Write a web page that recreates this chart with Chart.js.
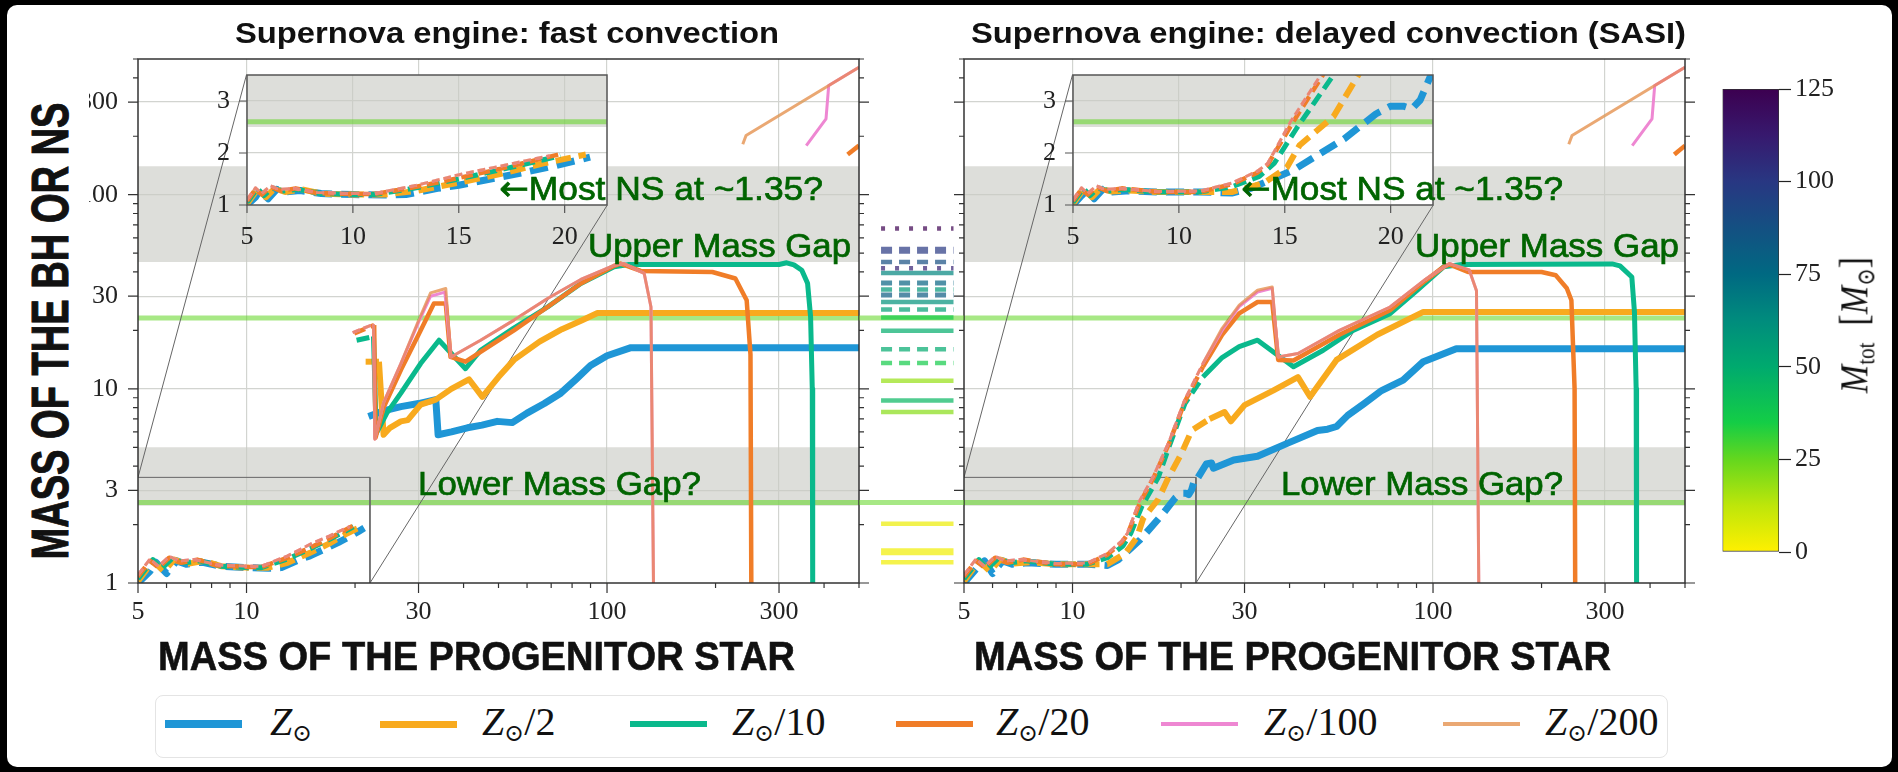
<!DOCTYPE html>
<html>
<head>
<meta charset="utf-8">
<script src="https://cdn.jsdelivr.net/npm/chart.js@4.4.1/dist/chart.umd.min.js"></script>
<style>
  body { margin: 0; width: 1898px; height: 772px; background: #000; overflow: hidden; position: relative; }
  #page { position: absolute; left: 7px; top: 5px; width: 1885px; height: 762px; background: #fff; border-radius: 10px; }
  canvas { position: absolute; }
  .txt { position: absolute; white-space: nowrap; transform-origin: 0 50%; }
  .txt .arrow { font-family: "DejaVu Sans", sans-serif; font-weight: normal; }
  #ybox { position: absolute; left: 7px; top: 62px; width: 82px; height: 520px; background: #fff; }
  #legend { position: absolute; left: 155px; top: 695px; width: 1511px; height: 61px; border: 1px solid #e4e4e4; border-radius: 8px; background: #fff; }
  .sw { position: absolute; }
  .lab { position: absolute; font: 40px/1 "Liberation Serif", "DejaVu Serif", serif; color: #111; white-space: nowrap; }
  .lab sub { font-size: 0.6em; vertical-align: -0.25em; font-style: normal; }
</style>
</head>
<body>
<div id="page"></div>
<canvas id="fast"></canvas>
<canvas id="sasi"></canvas>
<canvas id="strip"></canvas>
<canvas id="fastInset"></canvas>
<canvas id="sasiInset"></canvas>
<canvas id="cbar"></canvas>
<div id="ybox"></div>
<div id="legend"></div>
<script>
// ---- axes / reference values ----
const xMajor = [5, 10, 30, 100, 300];
const yMajor = [1, 3, 10, 30, 100, 300];
const insetXTicks = [5, 10, 15, 20];
const insetYTicks = [1, 2, 3];
const insetRangeX = [5, 22];
const insetRangeY = [1, 3.5];
const insetBoxX = [10, 100];     // where the inset sits, in main-panel data units
const insetBoxY = [88, 415];
const gapLower = [2.5, 5];
const gapUpper = [45, 140];
const gw190814 = [23.2, 2.6];
const gw190814Total = 25.8;

// ---- series: [progenitor mass, remnant mass] ----
const seriesSuffix = ['', '/2', '/10', '/20', '/100', '/200'];
const seriesColors = ['#1f96d6', '#f8aa1e', '#0ab98c', '#f07d28', '#ee87d2', '#eaa873'];
const seriesWidths = [7, 6, 5, 4.5, 3, 3];

// fast convection
const fastSolar = [[5,1.0],[5.4,1.15],[5.6,1.28],[6.0,1.12],[6.4,1.3],[6.8,1.25],[7.5,1.28],[8.5,1.22],[10,1.2],[11.5,1.19],[12.5,1.2],[14,1.32],[15,1.38],[16.5,1.5],[18,1.62],[19.5,1.75],[20.5,1.85],[21.2,1.92],[21.5,null],
  [21.8,7.2],[24,7.7],[26.8,8.1],[30,8.4],[33.5,8.8],[34,5.8],[37,6.0],[41,6.3],[45,6.5],[49.6,6.8],[54.6,6.7],[60,7.5],[67,8.4],[74.4,9.5],[82,11.2],[90,13.2],[100,14.8],[116.5,16.3],[500,16.3]];
const fastHalf = [[5,1.02],[5.5,1.3],[5.9,1.15],[6.3,1.32],[6.8,1.25],[7.6,1.3],[8.5,1.22],[10,1.2],[11.5,1.2],[13,1.27],[15,1.43],[17,1.6],[19,1.8],[21,1.97],[21.2,null],
  [21.4,13.8],[23.3,13.8],[24,5.8],[25,6.3],[26.8,6.8],[28,6.9],[30.4,8.3],[33.5,8.8],[37,10],[41.4,11.2],[45.1,9.1],[50,11.5],[55.2,14.1],[65,17.5],[75,20.3],[85,22.5],[94.1,24.6],[500,24.6]];
const fastTenth = [[5,1.05],[5.5,1.32],[5.8,1.18],[6.2,1.33],[6.7,1.27],[7.4,1.3],[8.5,1.22],[10,1.2],[11,1.2],[13,1.33],[15,1.5],[17,1.68],[19,1.87],[19.8,1.95],[20,null],
  [20.2,17.8],[22.5,18.6],[22.9,5.9],[24.5,7.5],[26.8,9.5],[30.4,13.5],[34.2,17.8],[40.5,12.7],[44.6,15.8],[55,20.5],[68.4,26.4],[84.6,34.9],[104.6,42.5],[115,43.7],[300,43.7],[315,44.6],[330,43.5],[347,40.8],[360,35],[367,23.5],[371,10],[372,0.9]];
const fastTwentieth = [[5,1.08],[5.4,1.3],[5.7,1.2],[6.1,1.35],[6.6,1.27],[7.3,1.32],[8.3,1.23],[10,1.21],[11,1.21],[13,1.35],[15,1.52],[17,1.7],[19,1.9],[19.7,1.97],[19.8,null],
  [19.9,19.3],[22.6,21.3],[22.8,5.6],[24,8],[26.8,12.5],[30,19],[33.1,27.5],[35.7,27.5],[36.8,14.6],[40.5,13.8],[55.2,20],[68.4,26.4],[84.6,34.9],[104.6,43],[109,44.2],[124,40.5],[196,40],[227,37],[244,28.6],[250,15],[251.4,0.9],[300,null],
  [465,161],[500,179]];
const fastHundredth = [[5,1.1],[5.4,1.33],[5.7,1.22],[6.1,1.37],[6.5,1.3],[7.2,1.32],[8.3,1.24],[10,1.22],[11,1.22],[13,1.38],[15.2,1.6],[17,1.75],[19.3,1.95],[19.5,null],
  [19.7,19.5],[22.5,21.5],[22.7,5.5],[24,8.5],[26.8,13.5],[30,22],[32.4,30],[35.5,31.5],[36.9,14.6],[44.6,17.8],[55.2,22.6],[68.4,29.2],[84.6,36.6],[104.6,43.3],[111.6,44.2],[126.8,39.3],[132.4,26.4],[134.6,0.9],[200,null],
  [357,179],[405,246],[412,365],[500,453]];
const fastTwoHundredth = [[5,1.1],[5.4,1.33],[5.7,1.22],[6.1,1.37],[6.5,1.3],[7.2,1.32],[8.3,1.24],[10,1.22],[11,1.22],[13,1.38],[15.2,1.6],[17,1.75],[19.3,1.95],[19.5,null],
  [19.7,19.5],[22.5,21.5],[22.7,5.5],[24,8.5],[26.8,13.5],[30,22.5],[32.4,31.2],[35.7,32.9],[36.9,14.6],[44.6,17.8],[55.2,22.6],[68.4,29.2],[84.6,36.6],[104.6,43.3],[111.6,44.2],[126.8,39.3],[132.4,26.4],[134.6,0.9],[200,null],
  [238,182],[243,202],[500,453]];

// delayed convection (SASI)
const sasiSolar = [[5,1.0],[5.4,1.18],[5.7,1.3],[6.0,1.12],[6.4,1.3],[6.8,1.25],[7.5,1.27],[9,1.25],[11,1.25],[12.5,1.23],[13.4,1.32],[15.4,1.67],[17.8,2.27],[19.3,2.75],[20.0,2.9],[20.6,2.9],[21.0,2.85],[21.4,3.02],[21.85,3.45],[22.3,3.5],
  [23.5,4.1],[24.3,4.15],[24.6,3.9],[28,4.3],[32.6,4.5],[40,5.3],[47.8,6.1],[51,6.2],[54,6.4],[58,7.3],[64.4,8.4],[72,9.8],[82.6,11.1],[94,13.8],[116,16.1],[500,16.1]];
const sasiHalf = [[5,1.02],[5.5,1.3],[5.9,1.15],[6.3,1.32],[6.8,1.26],[7.6,1.28],[9,1.25],[11,1.25],[12.5,1.25],[14,1.42],[15.1,1.72],[15.7,2.15],[17.3,2.7],[18.4,3.45],[20,4.6],[21.4,6.1],
  [24,7.0],[26.4,7.6],[27.5,6.8],[30,8.25],[36,9.8],[42.2,11.5],[45.6,9.1],[54,14.1],[70,19],[94,24.9],[500,24.9]];
const sasiTenth = [[5,1.05],[5.5,1.32],[5.8,1.18],[6.2,1.33],[6.7,1.27],[7.4,1.3],[9,1.25],[11,1.25],[12.5,1.35],[13.8,1.55],[14.5,1.8],[15.6,2.5],[17.3,3.5],[18.5,5],[20.5,8.4],
  [23,11.5],[26,14.5],[29,16.5],[32.6,17.8],[41,13],[49.6,15.8],[60,20],[76,24.4],[90,32],[107,42.5],[120,43.7],[314,44],[330,43],[356,37.7],[362,25],[366,10],[367,0.9]];
const sasiTwentieth = [[5,1.08],[5.4,1.3],[5.7,1.2],[6.1,1.35],[6.6,1.27],[7.3,1.32],[9,1.25],[11,1.25],[12.5,1.4],[13.7,1.62],[14.2,1.78],[15.4,2.6],[16.8,3.5],[18.5,5.2],[20.5,8.6],
  [23,13],[26,19],[29,24.5],[32.6,28],[35.8,28],[37.2,14.1],[41,14],[55,19],[76,25.4],[95,36],[107,42.5],[111,43.7],[125,40],[200,40],[219,38.5],[235,33],[242,28.6],[247,10],[248,0.9],[300,null],
  [467,161],[500,179]];
const sasiHundredth = [[5,1.1],[5.4,1.33],[5.7,1.22],[6.1,1.37],[6.5,1.3],[7.2,1.32],[9,1.26],[11,1.27],[12.5,1.42],[13.7,1.65],[14.2,1.8],[15.3,2.62],[16.7,3.5],[18.5,5.3],[20.5,8.8],
  [23,13.5],[26,20],[29,26.5],[32.6,31.5],[35.8,33],[37.2,14.6],[42.2,15.2],[55,20],[76,26.4],[95,36.5],[111,44.2],[126,41],[132,32],[134,0.9],[200,null],
  [357,179],[405,246],[412,365],[500,453]];
const sasiTwoHundredth = [[5,1.1],[5.4,1.33],[5.7,1.22],[6.1,1.37],[6.5,1.3],[7.2,1.32],[9,1.26],[11,1.27],[12.5,1.42],[13.7,1.65],[14.2,1.8],[15.3,2.62],[16.7,3.5],[18.5,5.3],[20.5,8.8],
  [23,13.5],[26,20.5],[29,27],[32.6,32.2],[35.8,33.5],[37.2,14.6],[42.2,15.2],[55,20],[76,26.4],[95,36.5],[111,44.2],[126,41],[132,32],[134,0.9],[200,null],
  [238,182],[243,202],[500,453]];

// observed compact objects (middle strip)
const eventMass  = [66.9, 51.7, 45.0, 41.8, 39.5, 35.1, 32.5, 30.4, 28.0, 25.6, 23.3, 19.9, 16.0, 13.6, 11.0, 8.7, 7.6, 2.02, 1.45, 1.28];
const eventTotal = [150, 100, 88, 110, 65, 78, 58, 82, 60, 55, 36, 49, 50, 36, 18, 45, 20, 3.4, 2.7, 2.7];
const eventStyle = ['dotted','dashed','dashed','dotted','solid','dashed','dashed','dashed','solid','dashed','solid','solid','dashed','dashed','solid','solid','solid','solid','solid','solid'];
const eventWidth = [4.5, 7, 4.5, 4.5, 4.5, 5, 4.5, 5, 4.5, 4.5, 4.5, 4.5, 4.5, 4.5, 4.5, 4.5, 4.5, 4.5, 7, 4.5];

// colour bar
const cbarMax = 125;
const cbarTicks = [0, 25, 50, 75, 100, 125];
const cbStops = [
  [0.00, [255, 240, 0]], [0.10, [190, 230, 10]], [0.20, [100, 215, 30]], [0.28, [20, 205, 70]],
  [0.40, [0, 170, 110]], [0.50, [0, 140, 125]], [0.60, [0, 105, 130]], [0.70, [20, 80, 130]],
  [0.80, [40, 55, 130]], [0.90, [55, 25, 110]], [1.00, [60, 0, 80]]
];

// ---- helpers ----
function cmap(v, alpha) {
  const t = Math.max(0, Math.min(1, v / cbarMax));
  for (let i = 1; i < cbStops.length; i++) {
    if (t <= cbStops[i][0]) {
      const [t0, c0] = cbStops[i - 1], [t1, c1] = cbStops[i];
      const f = (t - t0) / (t1 - t0);
      const c = c0.map((a, k) => Math.round(a + (c1[k] - a) * f));
      return `rgba(${c[0]},${c[1]},${c[2]},${alpha})`;
    }
  }
}
const toPoints = arr => arr.map(([x, y]) => ({x, y}));
const tickFont = {family: '"Liberation Serif", "DejaVu Serif", serif', size: 26};
const gridColor = '#d2d4d0';
const bandColor = 'rgba(200,202,196,0.62)';
const gwColor = cmap(gw190814Total, 0.55);
// keep Chart.js from reserving room for edge labels: the plot box is set by hand
const noPad = s => { s.paddingTop = 0; s.paddingBottom = 0; s.paddingLeft = 0; s.paddingRight = 0; };

function logValues(min, max) {
  const out = [];
  for (let e = 0; e < 4; e++) for (let k = 1; k < 10; k++) {
    const v = k * Math.pow(10, e);
    if (v >= min - 1e-9 && v <= max + 1e-9) out.push(v);
  }
  return out;
}

// ticks on the outside of the frame + frame itself
const frameTicks = {
  id: 'frameTicks',
  beforeDraw(chart, args, o) {
    if (!o.whiteBg) return;
    const a = chart.chartArea, ctx = chart.ctx;
    ctx.save(); ctx.fillStyle = '#fff'; ctx.fillRect(a.left, a.top, a.width, a.height); ctx.restore();
  },
  afterDatasetsDraw(chart, args, o) {
    if (!o.on) return;
    const {ctx, chartArea: a, scales: {x, y}} = chart;
    ctx.save();
    ctx.strokeStyle = o.color; ctx.lineWidth = 1.2;
    ctx.beginPath();
    const yVals = o.log ? logValues(y.min, y.max) : o.yMajor;
    yVals.forEach(v => {
      const p = y.getPixelForValue(v);
      const len = o.yMajor.includes(v) ? o.len : o.len / 2;
      ctx.moveTo(a.left - len, p); ctx.lineTo(a.left, p);
      if (o.right) { ctx.moveTo(a.right, p); ctx.lineTo(a.right + len, p); }
    });
    const xVals = o.log ? logValues(x.min, x.max) : o.xMajor;
    xVals.forEach(v => {
      const p = x.getPixelForValue(v);
      const len = o.xMajor.includes(v) ? o.len : o.len / 2;
      ctx.moveTo(p, a.bottom); ctx.lineTo(p, a.bottom + len);
    });
    ctx.stroke();
    ctx.lineWidth = o.frameWidth;
    ctx.strokeRect(a.left, a.top, a.width, a.height);
    ctx.restore();
  }
};
// lets the thin Z/200 line darken what lies below it (pink + tan -> salmon)
const darken = {
  id: 'darken',
  beforeDatasetDraw(chart, args) {
    if (chart.data.datasets[args.index].darken) { chart.ctx.save(); chart.ctx.globalCompositeOperation = 'darken'; }
  },
  afterDatasetDraw(chart, args) {
    if (chart.data.datasets[args.index].darken) chart.ctx.restore();
  }
};
Chart.register(frameTicks, darken);

function band(range) {
  return {data: toPoints([[1, range[1]], [1000, range[1]]]), fill: {value: range[0]}, backgroundColor: bandColor,
          borderWidth: 0, pointRadius: 0, order: 100};
}
function hline(v, x0, x1, color, width, dash) {
  return {data: toPoints([[x0, v], [x1, v]]), borderColor: color, borderWidth: width, borderDash: dash || [],
          pointRadius: 0, order: 90, clip: 0};
}
function seriesSet(arr, i, scale) {
  const w = seriesWidths[i] * scale;
  return {
    data: toPoints(arr), borderColor: seriesColors[i], borderWidth: w, pointRadius: 0, tension: 0, clip: 0,
    borderJoinStyle: 'round', order: 10 - i, darken: i === 5,
    segment: {borderDash: c => c.p0.parsed.x < 22 ? [w * 2.6, w * 1.3] : undefined}
  };
}
const baseOptions = () => ({
  responsive: false, animation: false, events: [], devicePixelRatio: 1,
  plugins: {legend: {display: false}, tooltip: {enabled: false}}
});

// ---- main panels ----
const canvasTop = 40, plotTop = 59, plotBottom = 583;

function panel(id, canvasLeft, canvasWidth, plotLeft, plotRight, series, showYLabels) {
  const cv = document.getElementById(id);
  cv.width = canvasWidth; cv.height = 600;
  cv.style.left = canvasLeft + 'px'; cv.style.top = canvasTop + 'px';
  const boxPts = [[insetRangeX[0], insetRangeY[1]], [insetRangeX[1], insetRangeY[1]], [insetRangeX[1], 0.9]];
  const conn1 = [[insetBoxX[0], insetBoxY[1]], [insetRangeX[0], insetRangeY[1]]];
  const conn2 = [[insetBoxX[1], insetBoxY[0]], [insetRangeX[1], insetRangeY[0]]];
  const thin = arr => ({data: toPoints(arr), borderColor: '#666', borderWidth: 1, pointRadius: 0, order: 80, clip: 0});
  const datasets = [
    band(gapUpper), band(gapLower),
    hline(gw190814[0], 1, 1000, gwColor, 5), hline(gw190814[1], 1, 1000, gwColor, 5),
    thin(boxPts), thin(conn1), thin(conn2),
    ...series.map((s, i) => seriesSet(s, i, 1))
  ];
  const opts = baseOptions();
  opts.layout = {padding: {top: plotTop - canvasTop, right: canvasLeft + canvasWidth - plotRight, left: 0, bottom: 0}};
  opts.plugins.frameTicks = {on: true, log: true, xMajor, yMajor, len: 10, right: true, color: '#333', frameWidth: 1.5};
  opts.scales = {
    x: {
      type: 'logarithmic', min: 5, max: 500,
      afterBuildTicks: s => { s.ticks = xMajor.map(v => ({value: v})); },
      afterFit: s => { s.height = canvasTop + 600 - plotBottom; noPad(s); },
      ticks: {callback: v => String(v), font: tickFont, color: '#222', padding: 14, maxRotation: 0, autoSkip: false},
      grid: {drawTicks: false, color: c => (c.tick && c.tick.value === 5) ? 'rgba(0,0,0,0)' : gridColor, lineWidth: 1.2},
      border: {display: false}
    },
    y: {
      type: 'logarithmic', min: 1, max: 500,
      afterBuildTicks: s => { s.ticks = yMajor.map(v => ({value: v})); },
      afterFit: s => { s.width = plotLeft - canvasLeft; noPad(s); },
      ticks: {display: showYLabels, callback: v => String(v), font: tickFont, color: '#222', padding: 20, autoSkip: false},
      grid: {drawTicks: false, color: c => (c.tick && c.tick.value === 1) ? 'rgba(0,0,0,0)' : gridColor, lineWidth: 1.2},
      border: {display: false}
    }
  };
  return new Chart(cv, {type: 'line', data: {datasets}, options: opts});
}

function inset(main, id, canvasLeft, series) {
  const {x, y} = main.scales;
  const l = Math.round(canvasLeft + x.getPixelForValue(insetBoxX[0]));
  const r = Math.round(canvasLeft + x.getPixelForValue(insetBoxX[1]));
  const t = Math.round(canvasTop + y.getPixelForValue(insetBoxY[1]));
  const b = Math.round(canvasTop + y.getPixelForValue(insetBoxY[0]));
  const padL = 50, padT = 10, padR = 20, padB = 45;
  const cv = document.getElementById(id);
  cv.width = r - l + padL + padR; cv.height = b - t + padT + padB;
  cv.style.left = (l - padL) + 'px'; cv.style.top = (t - padT) + 'px';
  const datasets = [
    band([gapLower[0], 10]),
    hline(gw190814[1], 0, 30, gwColor, 5),
    ...series.map((s, i) => seriesSet(s, i, 1))
  ];
  const opts = baseOptions();
  opts.layout = {padding: {top: padT, right: padR, left: 0, bottom: 0}};
  opts.plugins.frameTicks = {on: true, log: false, xMajor: insetXTicks, yMajor: insetYTicks, len: 8, right: false,
                             color: '#555', frameWidth: 1.5, whiteBg: true};
  opts.scales = {
    x: {
      type: 'linear', min: insetRangeX[0], max: insetRangeX[1],
      afterBuildTicks: s => { s.ticks = insetXTicks.map(v => ({value: v})); },
      afterFit: s => { s.height = padB; noPad(s); },
      ticks: {font: tickFont, color: '#222', padding: 17, maxRotation: 0, autoSkip: false},
      grid: {drawTicks: false, color: c => (c.tick && c.tick.value === 5) ? 'rgba(0,0,0,0)' : gridColor, lineWidth: 1.2},
      border: {display: false}
    },
    y: {
      type: 'linear', min: insetRangeY[0], max: insetRangeY[1],
      afterBuildTicks: s => { s.ticks = insetYTicks.map(v => ({value: v})); },
      afterFit: s => { s.width = padL; noPad(s); },
      ticks: {font: tickFont, color: '#222', padding: 17, autoSkip: false},
      grid: {drawTicks: false, color: c => (c.tick && c.tick.value === 1) ? 'rgba(0,0,0,0)' : gridColor, lineWidth: 1.2},
      border: {display: false}
    }
  };
  return new Chart(cv, {type: 'line', data: {datasets}, options: opts});
}

const fastSeries = [fastSolar, fastHalf, fastTenth, fastTwentieth, fastHundredth, fastTwoHundredth];
const sasiSeries = [sasiSolar, sasiHalf, sasiTenth, sasiTwentieth, sasiHundredth, sasiTwoHundredth];

const fastChart = panel('fast', 40, 846, 138, 859, fastSeries, true);
const sasiChart = panel('sasi', 905, 805, 964, 1685, sasiSeries, false);
inset(fastChart, 'fastInset', 40, fastSeries);
inset(sasiChart, 'sasiInset', 905, sasiSeries);

// ---- middle strip of observed masses ----
(function () {
  const cv = document.getElementById('strip');
  const left = 859, width = 105;
  cv.width = width; cv.height = 600;
  cv.style.left = left + 'px'; cv.style.top = canvasTop + 'px';
  const dashes = {solid: [], dashed: [11, 7], dotted: [4, 10]};
  const datasets = [
    hline(gw190814[0], 0, 1, gwColor, 5), hline(gw190814[1], 0, 1, gwColor, 5)
  ];
  eventMass.forEach((m, i) => {
    datasets.push({data: toPoints([[0.21, m], [0.9, m]]), borderColor: cmap(eventTotal[i], 0.7),
                   borderWidth: eventWidth[i], borderDash: dashes[eventStyle[i]], pointRadius: 0, clip: 0});
  });
  const opts = baseOptions();
  opts.layout = {padding: {top: plotTop - canvasTop, bottom: canvasTop + 600 - plotBottom, left: 0, right: 0}};
  opts.scales = {
    x: {type: 'linear', min: 0, max: 1, display: false},
    y: {type: 'logarithmic', min: 1, max: 500, display: false}
  };
  new Chart(cv, {type: 'line', data: {datasets}, options: opts});
})();

// ---- colour bar ----
(function () {
  const cv = document.getElementById('cbar');
  const left = 1712, top = 70;
  cv.width = 130; cv.height = 505;
  cv.style.left = left + 'px'; cv.style.top = top + 'px';
  const opts = baseOptions();
  opts.layout = {padding: {left: 10.5, top: 19, bottom: 23, right: 0}};
  opts.scales = {
    x: {display: false},
    y: {
      position: 'right', min: 0, max: cbarMax,
      afterBuildTicks: s => { s.ticks = cbarTicks.map(v => ({value: v})); },
      afterFit: s => { s.width = left + 130 - 1779; noPad(s); },
      ticks: {font: tickFont, color: '#222', padding: 4},
      grid: {drawOnChartArea: false, drawTicks: true, tickLength: 12, tickColor: '#222', tickWidth: 1.2},
      border: {display: false}
    }
  };
  new Chart(cv, {
    type: 'bar',
    data: {labels: [''], datasets: [{
      data: [[0, cbarMax]], borderColor: '#333', borderWidth: 1, borderSkipped: false,
      barPercentage: 1, categoryPercentage: 1,
      backgroundColor: c => {
        const a = c.chart.chartArea;
        if (!a) return null;
        const g = c.chart.ctx.createLinearGradient(0, a.bottom, 0, a.top);
        cbStops.forEach(([t, rgb]) => g.addColorStop(t, `rgb(${rgb.join(',')})`));
        return g;
      }
    }]},
    options: opts
  });
})();

// ---- texts ----
const sans = '"Liberation Sans", Arial, sans-serif';
const darkGreen = '#006400';
const texts = [
  {t: 'Supernova engine: fast convection', x: 235, base: 43, fs: 30, w: 544, bold: true},
  {t: 'Supernova engine: delayed convection (SASI)', x: 971, base: 43, fs: 30, w: 715, bold: true},
  {t: 'Upper Mass Gap', x: 588, base: 257, fs: 34, w: 263, color: darkGreen, stroke: 0.7},
  {t: 'Upper Mass Gap', x: 1415, base: 257, fs: 34, w: 264, color: darkGreen, stroke: 0.7},
  {t: 'Lower Mass Gap?', x: 418, base: 495, fs: 34, w: 283, color: darkGreen, stroke: 0.7},
  {t: 'Lower Mass Gap?', x: 1281, base: 495, fs: 34, w: 282, color: darkGreen, stroke: 0.7},
  {t: 'Most NS at ~1.35?', arrow: true, x: 499, base: 200, fs: 34, w: 324, color: darkGreen, stroke: 0.7},
  {t: 'Most NS at ~1.35?', arrow: true, x: 1241, base: 200, fs: 34, w: 322, color: darkGreen, stroke: 0.7},
  {t: 'MASS OF THE PROGENITOR STAR', x: 158, base: 670, fs: 40, w: 637, bold: true, stroke: 0.6},
  {t: 'MASS OF THE PROGENITOR STAR', x: 974, base: 670, fs: 40, w: 637, bold: true, stroke: 0.6}
];
texts.forEach(d => {
  const el = document.createElement('div');
  el.className = 'txt';
  if (d.arrow) {
    const a = document.createElement('span');
    a.className = 'arrow';
    a.textContent = '\u2190';
    el.appendChild(a);
  }
  el.appendChild(document.createTextNode(d.t));
  el.style.font = `${d.bold ? 'bold ' : ''}${d.fs}px/1 ${sans}`;
  el.style.color = d.color || '#111';
  if (d.stroke) el.style.webkitTextStroke = `${d.stroke}px ${d.color || '#111'}`;
  el.style.left = d.x + 'px';
  el.style.top = (d.base - 0.8465 * d.fs) + 'px';
  document.body.appendChild(el);
  const w = el.getBoundingClientRect().width;
  el.style.transform = `scaleX(${d.w / w})`;
});

// rotated titles
function rotated(html, cx, cy, font, length) {
  const el = document.createElement('div');
  el.style.position = 'absolute';
  el.style.whiteSpace = 'nowrap';
  el.style.font = font;
  el.style.color = '#111';
  el.innerHTML = html;
  el.style.left = cx + 'px'; el.style.top = cy + 'px';
  document.body.appendChild(el);
  const w = el.getBoundingClientRect().width;
  const s = length ? length / w : 1;
  el.style.transform = `translate(-50%, -50%) rotate(-90deg) scaleX(${s})`;
  return el;
}
const yt = rotated('MASS OF THE BH OR NS', 50, 331, `bold 52px/1 ${sans}`, 457);
yt.style.webkitTextStroke = '1px #111';
rotated('<i>M</i><span style="font-size:0.62em;vertical-align:-0.3em">tot</span>&nbsp;&nbsp;[<i>M</i><span style="font-size:0.62em;vertical-align:-0.3em">\u2299</span>]',
        1857, 325, '40px/1 "Liberation Serif", "DejaVu Serif", serif', 136);

// ---- legend ----
const legendSwatchX = [165, 380, 630, 896, 1161, 1443];
const legendLabelX = [270, 482, 732, 996, 1264, 1545];
const legendY = 724;
seriesSuffix.forEach((s, i) => {
  const sw = document.createElement('div');
  sw.className = 'sw';
  const h = seriesWidths[i] + 1;
  sw.style.left = legendSwatchX[i] + 'px';
  sw.style.width = '77px';
  sw.style.height = h + 'px';
  sw.style.top = (legendY - h / 2) + 'px';
  sw.style.background = seriesColors[i];
  document.body.appendChild(sw);
  const lab = document.createElement('div');
  lab.className = 'lab';
  lab.innerHTML = `<i>Z</i><sub>\u2299</sub>${s}`;
  lab.style.left = legendLabelX[i] + 'px';
  lab.style.top = (legendY - 22) + 'px';
  document.body.appendChild(lab);
});
</script>
</body>
</html>
